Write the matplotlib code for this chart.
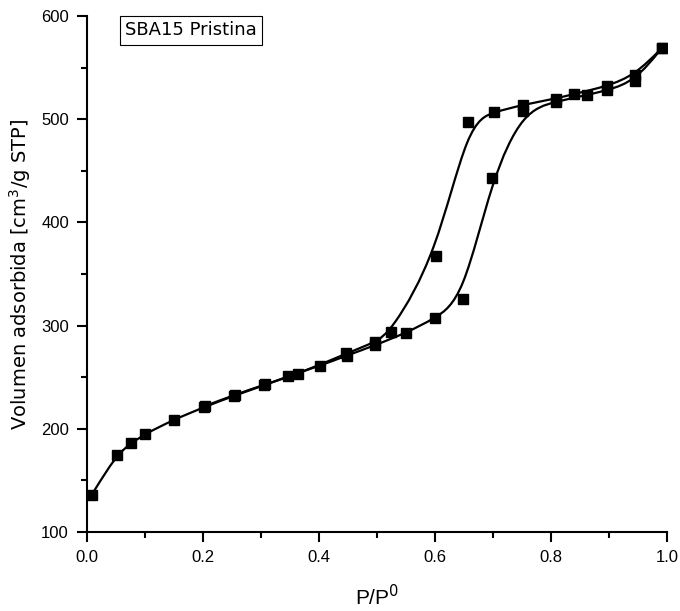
import matplotlib
matplotlib.use('Agg')
import matplotlib.pyplot as plt
import numpy as np
from matplotlib.path import Path
from matplotlib.patches import PathPatch
from matplotlib.ticker import MultipleLocator, FormatStrFormatter

plt.rcParams['font.family'] = ['Liberation Sans', 'DejaVu Sans']

# Isotherm data (P/P0, cm3/g STP)
ads_p = [0.008, 0.051, 0.076, 0.100, 0.150, 0.202, 0.253, 0.305, 0.347, 0.401, 0.448,
         0.497, 0.550, 0.600, 0.648, 0.698, 0.752, 0.808, 0.862, 0.897, 0.945, 0.991]
ads_v = [136, 175, 186, 195, 209, 221, 232, 242, 251, 261, 271,
         281, 293, 307, 326, 443, 508, 517, 523.5, 528, 537, 569]

des_p = [0.991, 0.945, 0.897, 0.840, 0.808, 0.752, 0.702, 0.657, 0.601, 0.524,
         0.497, 0.447, 0.363, 0.307, 0.255, 0.203]
des_v = [569, 543, 532, 524.5, 520, 514, 507, 497, 367, 294,
         284, 273, 253, 243, 233, 222]

title_text = 'SBA15 Pristina'


def bspline_path(xs, ys):
    '''Clamped uniform cubic B-spline with the data as control points,
    written out as cubic Bezier segments (like Origin's B-spline line).'''
    pts = np.column_stack([xs, ys]).astype(float)
    pts = np.vstack([pts[:1], pts[:1], pts, pts[-1:], pts[-1:]])
    verts = []
    codes = []
    for i in range(len(pts) - 3):
        p0, p1, p2, p3 = pts[i:i + 4]
        b0 = (p0 + 4 * p1 + p2) / 6
        b1 = (2 * p1 + p2) / 3
        b2 = (p1 + 2 * p2) / 3
        b3 = (p1 + 4 * p2 + p3) / 6
        if not verts:
            verts.append(b0)
            codes.append(Path.MOVETO)
        verts += [b1, b2, b3]
        codes += [Path.CURVE4] * 3
    return Path(verts, codes)


fig = plt.figure(figsize=(6.8, 6.11), dpi=100)
ax = fig.add_axes([0.128, 0.1293, 0.853, 0.8445])

for xs, ys in [(ads_p, ads_v), (des_p, des_v)]:
    ax.add_patch(PathPatch(bspline_path(xs, ys), facecolor='none',
                           edgecolor='black', lw=1.6, capstyle='round'))
    ax.plot(xs, ys, linestyle='none', marker='s', markersize=7.2, color='black')

ax.set_xlim(0, 1.0)
ax.set_ylim(100, 600)
ax.xaxis.set_major_locator(MultipleLocator(0.2))
ax.xaxis.set_minor_locator(MultipleLocator(0.1))
ax.yaxis.set_major_locator(MultipleLocator(100))
ax.yaxis.set_minor_locator(MultipleLocator(50))
ax.xaxis.set_major_formatter(FormatStrFormatter('%.1f'))

for side in ['top', 'right']:
    ax.spines[side].set_visible(False)
for side in ['left', 'bottom']:
    ax.spines[side].set_linewidth(1.5)

ax.tick_params(which='major', direction='out', length=7, width=1.5,
               labelsize=12, pad=6)
ax.tick_params(which='minor', direction='out', length=4, width=1.5)

ax.set_xlabel(r'P/P$^0$', fontsize=15, labelpad=14)
ax.set_ylabel(r'Volumen adsorbida [cm$^3$/g STP]', family='DejaVu Sans',
              fontsize=14, labelpad=6)

ax.text(0.066, 0.99, title_text, transform=ax.transAxes, family='DejaVu Sans',
        fontsize=13, va='top', ha='left',
        bbox=dict(boxstyle='square,pad=0.3', facecolor='white',
                  edgecolor='black', lw=0.8))

fig.savefig('out.png', dpi=100)
